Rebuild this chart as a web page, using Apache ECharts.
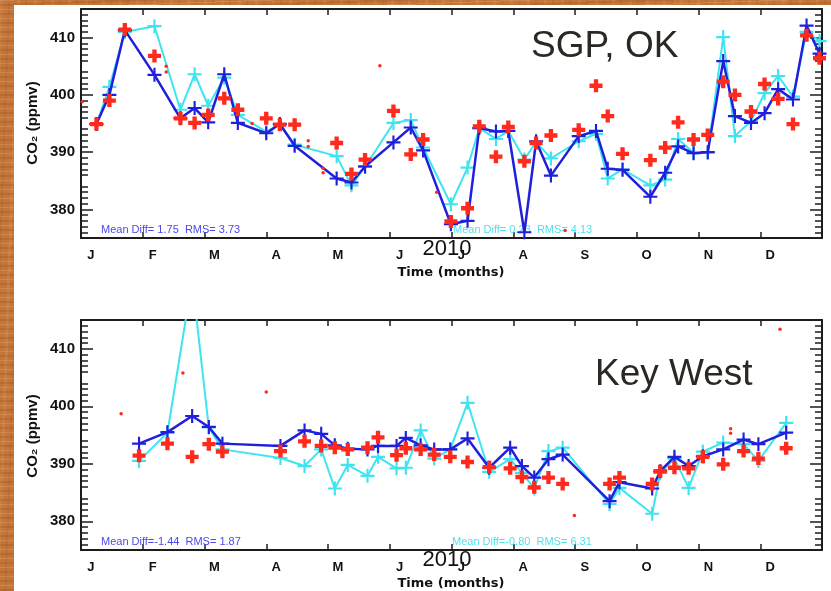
<!DOCTYPE html>
<html>
<head>
<meta charset="utf-8">
<script src="https://cdn.jsdelivr.net/npm/echarts@6/dist/echarts.min.js"></script>
<style>
  html, body { margin: 0; padding: 0; width: 831px; height: 591px; overflow: hidden; }
  #wood {
    position: absolute; left: 0; top: 0; width: 831px; height: 591px;
    background-color: #c4763a;
    background-image:
      repeating-linear-gradient(178deg, rgba(255,210,150,0.18) 0px, rgba(255,210,150,0.18) 1px, transparent 1px, transparent 4px, rgba(110,45,10,0.15) 4px, rgba(110,45,10,0.15) 6px, transparent 6px, transparent 9px),
      repeating-linear-gradient(92deg, rgba(255,200,140,0.10) 0px, rgba(255,200,140,0.10) 3px, transparent 3px, transparent 8px, rgba(120,50,15,0.10) 8px, rgba(120,50,15,0.10) 10px, transparent 10px, transparent 17px);
  }
  #panel { position: absolute; left: 14px; top: 5px; width: 817px; height: 586px; background: #ffffff; }
  #chart { position: absolute; left: 0; top: 0; width: 831px; height: 591px; }
</style>
</head>
<body>
<div id="wood"></div>
<div id="panel"></div>
<div id="chart"></div>
<script>
// Month initials along the time axis (x is measured in months from 1 January 2010)
const monthLetters = ['J', 'F', 'M', 'A', 'M', 'J', 'J', 'A', 'S', 'O', 'N', 'D'];
const yTickValues = [380, 390, 400, 410];

// ---- SGP, OK ----
const sgpMonths = [0.25, 0.46, 0.71, 1.19, 1.61, 1.84, 2.06, 2.32, 2.54, 3.00, 3.22, 3.46, 4.14, 4.38, 4.60,
  5.06, 5.34, 5.54, 5.99, 6.26, 6.45, 6.72, 6.92, 7.18, 7.37, 7.61, 8.06, 8.34, 8.53, 8.77,
  9.22, 9.46, 9.67, 9.92, 10.15, 10.40, 10.59, 10.85, 11.07, 11.29, 11.53, 11.75, 11.96];
const sgpInSitu = [394.9, 399.0, 411.4, 406.8, 395.9, 395.1, 396.5, 399.4, 397.4, 395.9, 394.8, 394.8, 391.6, 386.2, 388.7,
  397.2, 389.6, 392.2, 377.9, 380.2, 394.5, 389.2, 394.4, 388.4, 391.6, 392.9, 393.9, 401.6, 396.3, 389.7,
  388.6, 390.8, 395.2, 392.2, 393.0, 402.3, 400.0, 397.1, 401.9, 399.3, 394.9, 410.4, 406.4];
const sgpRetrievalA = [394.9, 400.0, 411.3, 403.5, 395.9, 397.7, 395.2, 403.6, 395.1, 393.3, 394.9, 391.1, 385.4, 384.7, 387.5,
  391.7, 394.3, 390.3, 377.4, 378.0, 394.2, 393.6, 393.7, 376.0, 391.9, 385.9, 392.8, 393.7, 387.1, 386.9,
  382.2, 386.4, 391.0, 389.8, 390.0, 405.9, 396.3, 395.1, 396.8, 401.0, 399.2, 412.1, 407.2];
const sgpRetrievalB = [394.9, 401.4, 411.0, 412.0, 397.4, 403.6, 398.1, 403.0, 396.5, 393.6, 394.9, 391.3, 389.3, 384.2, 387.4,
  395.1, 395.6, 390.8, 380.9, 387.3, 394.2, 392.3, 393.7, 388.7, 391.8, 388.9, 391.9, 393.2, 385.4, 387.0,
  384.2, 385.2, 392.3, 389.9, 389.9, 410.1, 392.8, 395.4, 400.3, 403.3, 399.7, 411.0, 409.4];
const sgpSingleMonths = [0.02, 1.38, 1.38, 2.77, 3.68, 3.68, 3.92, 3.92, 4.84, 5.76, 7.84];
const sgpSingleValues = [398.8, 405.0, 404.0, 395.0, 392.0, 391.0, 387.2, 386.4, 405.1, 383.0, 376.3];

// ---- Key West ----
const kwMonths = [0.94, 1.40, 1.80, 2.07, 2.29, 3.23, 3.62, 3.89, 4.11, 4.32, 4.64, 4.81, 5.11, 5.26, 5.50,
  5.72, 5.98, 6.26, 6.61, 6.95, 7.14, 7.34, 7.57, 7.80, 8.56, 8.72, 9.25, 9.38, 9.61, 9.84,
  10.07, 10.40, 10.73, 10.97, 11.42];
const kwInSitu = [391.4, 393.5, 391.2, 393.4, 392.1, 392.2, 393.9, 393.1, 392.8, 392.5, 392.8, 394.6, 391.5, 392.7, 392.5,
  391.6, 391.2, 390.3, 389.4, 389.2, 387.7, 385.9, 387.6, 386.5, 386.5, 387.6, 386.5, 388.7, 389.3, 389.2,
  391.2, 389.9, 392.2, 390.9, 392.7];
const kwRetrievalA = [393.5, 395.5, 398.3, 396.4, 393.5, 393.1, 395.8, 395.2, 393.2, 392.6, 392.5, 393.1, 393.1, 394.5, 393.2,
  392.5, 392.5, 394.4, 389.3, 392.8, 389.6, 387.6, 390.8, 391.6, 383.5, 386.8, 385.7, 388.7, 391.2, 389.6,
  391.3, 392.5, 394.2, 393.4, 395.4];
const kwRetrievalB = [390.5, 395.4, 422.0, 396.3, 392.5, 391.0, 389.6, 392.5, 385.7, 389.8, 387.9, 391.2, 389.2, 389.3, 395.8,
  390.9, 392.5, 400.6, 388.6, 390.8, 388.4, 385.7, 392.2, 392.8, 383.0, 385.8, 381.3, 388.4, 390.9, 385.8,
  392.1, 393.7, 393.4, 390.5, 397.1];
const kwSingleMonths = [0.65, 1.65, 3.00, 7.99, 10.52, 10.52, 11.32];
const kwSingleValues = [398.7, 405.8, 402.5, 381.0, 396.1, 395.3, 413.4];

// ---- styling ----
const FRAME = '#1c1c1c';
const FONT = '"Liberation Sans", Arial, Helvetica, sans-serif';
const RED = '#ff2a1c';
const BLUE = '#2020dc';
const CYAN = '#3ee4f0';
const PLUS_BOLD = 'path://M4 0h4v4h4v4h-4v4h-4v-4h-4v-4h4z';
const PLUS_THIN = 'path://M5.5 0h2v5.5h5.5v2h-5.5v5.5h-2v-5.5h-5.5v-2h5.5z';
const LABEL_SHIFT = 0.16;

function pairs(xs, ys) { return xs.map((x, i) => [x, ys[i]]); }

const frameLine = { show: true, onZero: false, lineStyle: { color: FRAME, width: 2 } };
const tickLine = { color: FRAME, width: 1.5 };

function xAxesFor(g) {
  const base = { gridIndex: g, type: 'value', min: 0, max: 12, interval: 1, splitLine: { show: false } };
  return [
    Object.assign({}, base, {
      position: 'bottom', axisLine: frameLine,
      axisTick: { inside: true, length: 6, lineStyle: tickLine },
      axisLabel: {
        customValues: monthLetters.map((_, i) => i + LABEL_SHIFT),
        formatter: v => monthLetters[Math.round(v - LABEL_SHIFT)] || '',
        margin: 11, color: '#111', fontFamily: FONT, fontWeight: 'bold', fontSize: 13
      }
    }),
    Object.assign({}, base, {
      position: 'top', axisLine: frameLine,
      axisTick: { inside: true, length: 6, lineStyle: tickLine },
      axisLabel: { show: false }
    })
  ];
}

// One axis per side: long ticks every 10 ppmv, short minor ticks every 1 ppmv
function yAxesFor(g) {
  const base = {
    gridIndex: g, type: 'value', min: 375, max: 415, interval: 5, splitLine: { show: false },
    axisLine: frameLine,
    axisTick: { inside: true, length: 12, customValues: yTickValues, lineStyle: tickLine },
    minorTick: { show: true, splitNumber: 5, length: 7, lineStyle: tickLine },
    minorSplitLine: { show: false }
  };
  return [
    Object.assign({}, base, {
      position: 'left',
      axisLabel: { customValues: yTickValues, margin: 6, color: '#111', fontFamily: FONT, fontWeight: 'bold', fontSize: 15 }
    }),
    Object.assign({}, base, { position: 'right', axisLabel: { show: false } })
  ];
}

function seriesFor(p, months, inSitu, retA, retB, singleX, singleY) {
  const axes = { xAxisIndex: 2 * p, yAxisIndex: 2 * p };
  return [
    Object.assign({ type: 'line', data: pairs(months, retB), symbol: PLUS_THIN, symbolSize: 14,
      itemStyle: { color: CYAN }, lineStyle: { color: CYAN, width: 2 }, z: 3 }, axes),
    Object.assign({ type: 'line', data: pairs(months, retA), symbol: PLUS_THIN, symbolSize: 14,
      itemStyle: { color: BLUE }, lineStyle: { color: BLUE, width: 2.5 }, z: 4 }, axes),
    Object.assign({ type: 'scatter', data: pairs(months, inSitu), symbol: PLUS_BOLD, symbolSize: 13,
      itemStyle: { color: RED, opacity: 1 }, z: 5 }, axes),
    Object.assign({ type: 'scatter', data: pairs(singleX, singleY), symbol: 'circle', symbolSize: 3.5,
      itemStyle: { color: RED, opacity: 1 }, z: 5 }, axes)
  ];
}

function text(x, y, str, font, fill, align, extra) {
  return Object.assign({
    type: 'text', x: x, y: y, z: 10,
    style: { text: str, font: font, fill: fill, textAlign: align, textVerticalAlign: 'middle', align: align, verticalAlign: 'middle' }
  }, extra || {});
}

const titleFont = '37px ' + FONT;
const yearFont = '22px ' + FONT;
const axisTitleFont = 'bold 13px "DejaVu Sans", ' + FONT;
const statFont = '11px ' + FONT;

const chart = echarts.init(document.getElementById('chart'), null, { renderer: 'canvas' });
chart.setOption({
  animation: false,
  backgroundColor: 'transparent',
  grid: [
    { left: 81, top: 9, width: 741, height: 229 },
    { left: 81, top: 320, width: 741, height: 230 }
  ],
  xAxis: xAxesFor(0).concat(xAxesFor(1)),
  yAxis: yAxesFor(0).concat(yAxesFor(1)),
  series: seriesFor(0, sgpMonths, sgpInSitu, sgpRetrievalA, sgpRetrievalB, sgpSingleMonths, sgpSingleValues)
    .concat(seriesFor(1, kwMonths, kwInSitu, kwRetrievalA, kwRetrievalB, kwSingleMonths, kwSingleValues)),
  graphic: [
    text(531, 47, 'SGP, OK', titleFont, '#2b2823', 'left'),
    text(595, 375, 'Key West', titleFont, '#2b2823', 'left'),
    text(447, 249, '2010', yearFont, '#111', 'center'),
    text(451, 273, 'Time (months)', axisTitleFont, '#111', 'center'),
    text(447, 560, '2010', yearFont, '#111', 'center'),
    text(451, 584, 'Time (months)', axisTitleFont, '#111', 'center'),
    text(33, 123, 'CO₂ (ppmv)', 'bold 15px ' + FONT, '#111', 'center', { rotation: Math.PI / 2 }),
    text(33, 436, 'CO₂ (ppmv)', 'bold 15px ' + FONT, '#111', 'center', { rotation: Math.PI / 2 }),
    text(101, 230, 'Mean Diff= 1.75  RMS= 3.73', statFont, '#4a4aec', 'left', { z: 1 }),
    text(453, 230, 'Mean Diff= 0.23  RMS= 4.13', statFont, '#4fe2ee', 'left', { z: 1 }),
    text(101, 542, 'Mean Diff=-1.44  RMS= 1.87', statFont, '#4a4aec', 'left', { z: 1 }),
    text(452, 542, 'Mean Diff=-0.80  RMS= 6.31', statFont, '#4fe2ee', 'left', { z: 1 })
  ]
});
</script>
</body>
</html>
